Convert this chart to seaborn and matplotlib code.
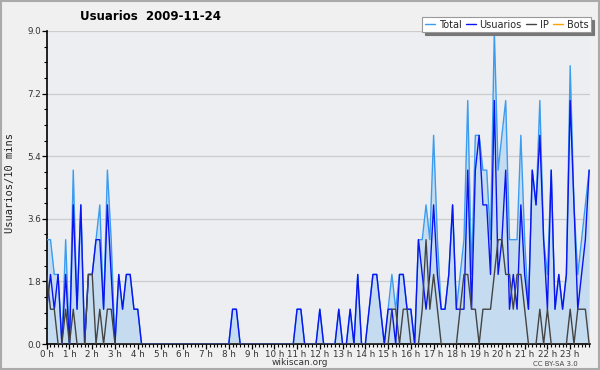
import numpy as np
import pandas as pd
import matplotlib
matplotlib.use("Agg")
import matplotlib.pyplot as plt
import seaborn as sns
from matplotlib.patches import Rectangle

# ---- data (144 ten-minute slots) ----
total = [3,3,2,2,0,3,0,5,1,4,0,2,2,3,4,1,5,3,0,2,1,2,2,1,1,0,
         0,0,0,0,0,0,0,0,0,0,0,0,0,0,0,0,0,0,0,0,0,0,0,1,1,0,
         0,0,0,0,0,0,0,0,0,0,0,0,0,0,1,1,0,0,0,0,1,0,0,0,0,1,
         0,0,1,0,2,0,0,1,2,2,1,0,1,2,1,2,2,1,1,0,3,3,4,3,6,3,
         1,1,2,4,1,2,3,7,2,6,6,5,5,3,9,5,6,7,3,3,3,6,3,1,5,4,
         7,3,2,5,1,2,1,2,8,4,2,3,4,5]
usuarios = [1,2,1,2,0,2,0,4,1,4,0,2,2,3,3,1,4,2,0,2,1,2,2,1,1,0,
            0,0,0,0,0,0,0,0,0,0,0,0,0,0,0,0,0,0,0,0,0,0,0,1,1,0,
            0,0,0,0,0,0,0,0,0,0,0,0,0,0,1,1,0,0,0,0,1,0,0,0,0,1,
            0,0,1,0,2,0,0,1,2,2,1,0,1,1,0,2,2,1,1,0,3,2,1,2,4,2,
            1,1,2,4,1,1,1,5,1,5,6,4,4,2,7,2,3,5,1,2,1,4,2,1,5,4,
            6,3,1,5,1,2,1,2,7,4,1,2,3,5]
ip = [2,1,1,0,0,1,0,1,0,0,0,2,2,0,1,0,1,1,0,0,0,0,0,0,0,0,
      0,0,0,0,0,0,0,0,0,0,0,0,0,0,0,0,0,0,0,0,0,0,0,0,0,0,
      0,0,0,0,0,0,0,0,0,0,0,0,0,0,0,0,0,0,0,0,0,0,0,0,0,0,
      0,0,0,0,0,0,0,0,0,0,0,0,0,1,1,0,1,1,0,0,0,1,3,1,2,1,
      0,0,0,0,0,1,2,2,1,1,0,1,1,1,2,3,3,2,2,1,2,2,1,0,0,0,
      1,0,1,0,0,0,0,0,1,0,1,1,1,0]
bots = [0] * 144
hour_labels = [f"{h} h" for h in range(24)]
ytick_values = [0.0, 1.8, 3.6, 5.4, 7.2, 9.0]

hours = np.arange(144) / 6.0
df = pd.DataFrame({"hora": hours, "Total": total, "Usuarios": usuarios,
                   "IP": ip, "Bots": bots})

sns.set_theme(style="white")
plt.rcParams["font.family"] = ["DejaVu Sans"]

fig = plt.figure(figsize=(6.0, 3.7), dpi=100, facecolor="#F0F0F0")
ax = fig.add_axes([46.7/600, 1-344/370, (590-46.7)/600, (344-31)/370])
ax.set_facecolor("#ECEEF1")

for y in ytick_values[1:]:
    ax.axhline(y, color="#CCCCCC", lw=0.9, zorder=0)

ax.fill_between(df["hora"], 0, df["Total"], color="#C5DCF0", zorder=1, lw=0)

colors = {"Total": "#3C9CF0", "Usuarios": "#0A14F0", "IP": "#444444", "Bots": "#FFA000"}
sns.lineplot(data=df, x="hora", y="Bots", ax=ax, color=colors["Bots"], lw=1.0, label="Bots", zorder=2)
sns.lineplot(data=df, x="hora", y="Total", ax=ax, color=colors["Total"], lw=1.0, label="Total", zorder=3)
sns.lineplot(data=df, x="hora", y="Usuarios", ax=ax, color=colors["Usuarios"], lw=1.0, label="Usuarios", zorder=4)
sns.lineplot(data=df, x="hora", y="IP", ax=ax, color=colors["IP"], lw=1.0, label="IP", zorder=5)

ax.set_xlim(0, 543.3/22.76)
ax.set_ylim(0, 9.0)
ax.set_xticks(range(24))
ax.set_xticklabels(hour_labels)
ax.set_xticks(np.arange(144)/6.0, minor=True)
ax.set_yticks(ytick_values)
ax.set_yticklabels([f"{v:.1f}" for v in ytick_values])
ax.set_yticks(np.arange(0, 9.01, 0.45), minor=True)
ax.tick_params(axis="both", which="major", direction="out", length=3.5, width=0.9,
               labelsize=6.3, colors="black", labelcolor="#333333", pad=0.5)
ax.tick_params(axis="both", which="minor", direction="out", length=2.2, width=0.8, colors="black")
ax.tick_params(axis="x", bottom=True, which="both")
ax.tick_params(axis="y", left=True, which="both")
ax.set_xlabel("")
ax.set_ylabel("")
for s in ["top", "right"]:
    ax.spines[s].set_visible(False)
for s in ["left", "bottom"]:
    ax.spines[s].set_color("black")
    ax.spines[s].set_linewidth(1.2)

handles, labels = ax.get_legend_handles_labels()
order = ["Total", "Usuarios", "IP", "Bots"]
hd = dict(zip(labels, handles))
leg = ax.legend([hd[k] for k in order], order, loc="upper right",
                bbox_to_anchor=(1.005, 1.05), ncol=4, fontsize=7,
                handlelength=1.1, handletextpad=0.35, columnspacing=0.4,
                frameon=True, fancybox=False, shadow={"color": "#777777", "alpha": 1.0},
                borderpad=0.25, borderaxespad=0.2)
leg.get_frame().set_edgecolor("#999999")
leg.get_frame().set_linewidth(0.8)
leg.set_zorder(10)

fig.text(151/600, 1-17/370, "Usuarios  2009-11-24", ha="center", va="center",
         fontsize=8.5, fontweight="bold", color="black")
fig.text(10/600, 187/370, "Usuarios/10 mins", rotation=90, ha="center", va="center",
         fontsize=7.5, family="DejaVu Sans Mono", color="#222222")
fig.text(300/600, 1-362.5/370, "wikiscan.org", ha="center", va="center", fontsize=6.5, color="#333333")
fig.text(555/600, 1-363.5/370, "CC BY-SA 3.0", ha="center", va="center", fontsize=5.0, color="#444444")

fig.patches.append(Rectangle((0.0015, 0.0025), 0.997, 0.995, transform=fig.transFigure,
                             fill=False, edgecolor="#AAAAAA", lw=1.5))

fig.savefig("out.png", dpi=100, facecolor=fig.get_facecolor())
